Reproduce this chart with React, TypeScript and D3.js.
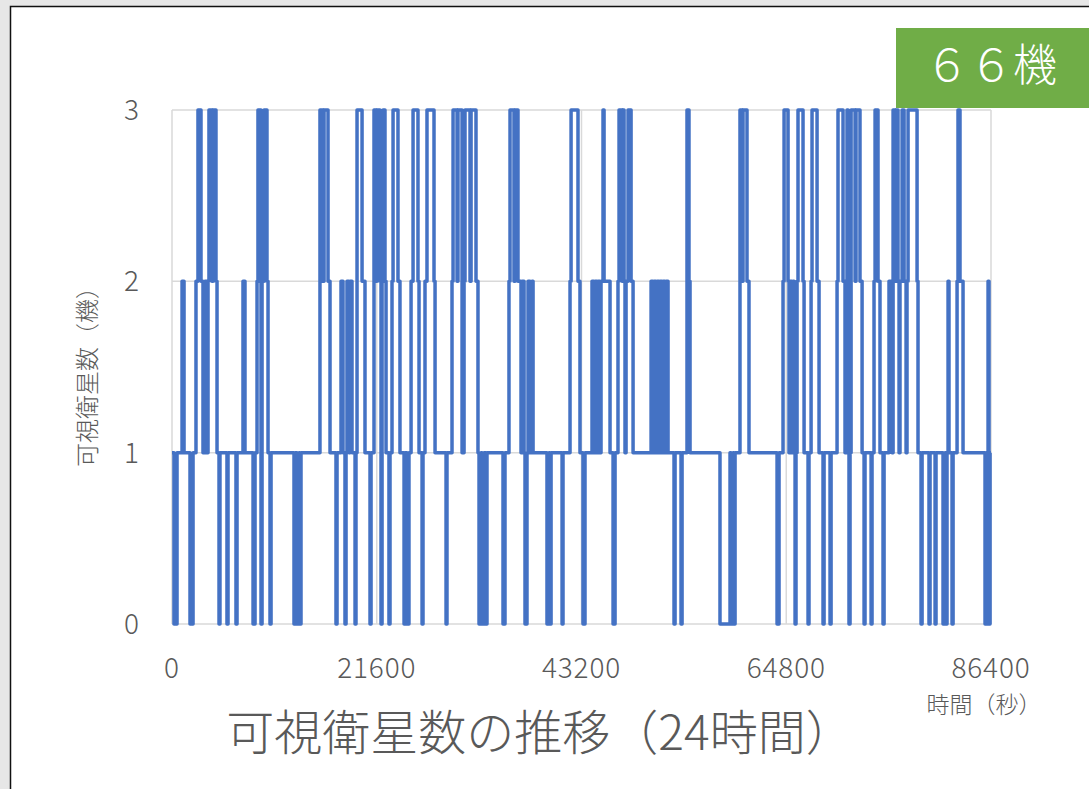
import React from 'react';
import { scaleLinear, line, curveStepAfter } from 'd3';

// change points of the visible-satellite count (seconds, count)
const changeTimes = [
  0, 210, 530, 1060, 1270, 1900, 2220, 2530, 2740, 3060, 3270, 3480, 3690, 3800, 3900, 4220, 4330, 4640, 4750, 4960,
  5060, 5800, 5910, 6750, 6860, 7490, 7700, 8550, 8760, 8970, 9070, 9390, 9500, 9710, 10020, 10130,
  10340, 10450, 12870, 12980, 13190, 13400, 13500, 13610, 15610, 15930, 16040, 16460, 16670, 17300, 17410, 17830,
  18040, 18250, 18360, 18460, 18670, 18780, 18990, 19310, 19410, 19520, 20050, 20360, 20890, 21000, 21310, 21520,
  21630, 21940,
  22050, 22160, 22260, 22470, 22580, 22890, 23000, 23210, 23320, 23840, 24050, 24480, 24580, 24790, 25000, 25220,
  25430, 25950, 26060, 26380, 26480, 26690, 26900, 27640, 27750, 28910, 29010, 29540, 29650, 30070, 30170, 30600,
  30810, 30910, 31440, 31550, 32070, 32280,
  32390, 32600, 32710, 32920, 33130, 33230, 34920, 35130, 35550, 35660, 36080, 36190, 36500, 36820, 36930, 37140,
  37240, 37450, 37560, 37770, 37980, 38090, 39560, 39770, 39880, 39990, 41150, 41250, 41990, 42100, 42830, 43040,
  43360, 43570,
  44310, 44520, 44630, 44840, 44940, 45150, 45260, 45470, 45580, 46210, 46530, 46740, 47050, 47160, 47480, 47580,
  47690, 47790, 47900, 48110, 48430, 48640, 50540, 50750, 50850, 51060, 51170, 51380, 51480, 51700, 51800, 52010,
  52120, 52330, 52960, 53070, 53700, 53810, 54330, 54540, 54650,
  57810, 58870, 58980, 59190, 59290, 59400, 59920, 60140, 60240, 60660, 60870, 63830, 64040, 64460, 64570, 64990,
  65090, 65200, 65410, 65520, 65620, 65730, 65830,
  65940, 66040, 66570, 66680, 67100, 67200, 67420, 67520, 68050, 68260, 68680, 68790, 69420, 69530, 70160, 70260,
  70790, 71000, 71110, 71210, 71320, 71420, 71530, 71640, 72060, 72160, 72580, 72800, 73010, 73110, 73750, 73850,
  74060, 74170, 74480, 74690, 75010, 75120, 75640, 75960, 76070, 76280, 76380,
  76590, 76700, 76800, 77020, 77230, 77440, 77540, 77650, 78600, 78700, 79020, 79130, 79860, 79970, 80500, 80600,
  81340, 81550, 81660, 81760, 81870, 81970, 82290, 82400, 82820, 82920, 83130, 83450, 85770, 85880, 85980, 86090,
  86190, 86300, 86400,
];
const changeValues = [
  1, 0, 1, 2, 1, 0, 1, 2, 3, 2, 1, 2, 1, 2, 3, 2, 3, 2, 1, 0,
  1, 0, 1, 0, 1, 2, 1, 0, 1, 2, 3, 0, 2, 3, 2, 1,
  0, 1, 0, 1, 0, 1, 0, 1, 3, 2, 3, 2, 1, 0, 1, 2,
  1, 0, 1, 2, 1, 2, 1, 0, 1, 3, 2, 1, 0, 1, 3, 2,
  3, 2,
  0, 2, 3, 2, 1, 0, 1, 2, 3, 2, 1, 0, 1, 0, 1, 2,
  3, 2, 1, 0, 1, 2, 3, 2, 1, 0, 1, 2, 3, 2, 3, 1,
  2, 3, 2, 3, 2, 1,
  0, 1, 0, 1, 0, 1, 0, 1, 2, 3, 2, 3, 2, 1, 2, 1,
  0, 1, 2, 1, 2, 1, 0, 1, 0, 1, 0, 1, 2, 3, 2, 1,
  0, 1,
  2, 1, 2, 1, 2, 1, 2, 3, 2, 1, 0, 1, 2, 3, 2, 3,
  2, 1, 2, 3, 2, 1, 2, 1, 2, 1, 2, 1, 2, 1, 2, 1,
  2, 1, 0, 1, 0, 1, 3, 2, 1,
  0, 1, 0, 1, 0, 1, 3, 2, 3, 2, 1, 0, 1, 2, 3, 2,
  1, 2, 1, 2, 1, 0, 1,
  2, 3, 2, 1, 0, 1, 2, 3, 2, 1, 0, 1, 0, 1, 2, 3,
  2, 1, 2, 3, 1, 0, 1, 3, 2, 3, 2, 1, 0, 1, 0, 1,
  2, 3, 2, 1, 0, 1, 2, 1, 3, 2, 3,
  2, 1, 2, 3, 2, 1, 2, 3, 2, 1, 0, 1, 0, 1, 0, 1,
  0, 1, 0, 1, 2, 1, 0, 1, 2, 3, 2, 1, 0, 1, 0, 2,
  0, 1, 1,
];

const xTicks = [0, 21600, 43200, 64800, 86400];
const yTicks = [0, 1, 2, 3];

const chartTitle = '可視衛星数の推移（24時間）';
const xTitle = '時間（秒）';
const yTitle = '可視衛星数（機）';
const badgeText = '６６機';

const W = 1089;
const H = 789;
const font = '"Noto Sans CJK JP", "Noto Sans", sans-serif';
const textColor = '#595959';

export default function App() {
  const x = scaleLinear().domain([0, 86400]).range([172, 991]);
  const y = scaleLinear().domain([0, 3]).range([624, 110]);

  const points = changeTimes.map((t, i) => ({ t, v: changeValues[i] }));
  const path = line<{ t: number; v: number }>()
    .x(d => x(d.t))
    .y(d => y(d.v))
    .curve(curveStepAfter)(points);

  return (
    <svg width={W} height={H} style={{ position: 'absolute', left: 0, top: 0 }} fontFamily={font}>
      <rect x={0} y={0} width={W} height={H} fill="#e7e7e7" />
      <rect x={10.5} y={6.5} width={W + 10} height={H + 10} fill="#fff" stroke="#111" strokeWidth={1.5} />

      {/* grid */}
      {yTicks.map(t => (
        <line key={'gy' + t} x1={x(0)} x2={x(86400)} y1={y(t)} y2={y(t)} stroke="#d9d9d9" strokeWidth={1.5} />
      ))}
      {xTicks.map(t => (
        <line key={'gx' + t} x1={x(t)} x2={x(t)} y1={y(3)} y2={y(0)} stroke="#d9d9d9" strokeWidth={1.5} />
      ))}

      <path d={path || ''} fill="none" stroke="#4472c4" strokeWidth={3.5} strokeLinejoin="round" />

      {/* tick labels */}
      {yTicks.map(t => (
        <text key={'ly' + t} x={139} y={y(t)} dy="0.36em" textAnchor="end" fontSize={28} fontWeight={300} fill={textColor}>
          {t}
        </text>
      ))}
      {xTicks.map(t => (
        <text key={'lx' + t} x={x(t)} y={678} textAnchor="middle" fontSize={28} fontWeight={300} letterSpacing={0.8} fill={textColor}>
          {t}
        </text>
      ))}

      <text x={984} y={713} textAnchor="middle" fontSize={23} fontWeight={300} fill={textColor}>{xTitle}</text>
      <text
        transform={`translate(96, 371) rotate(-90)`}
        textAnchor="middle"
        fontSize={24}
        fontWeight={300}
        fill={textColor}
      >
        {yTitle}
      </text>
      <text x={540} y={750} textAnchor="middle" fontSize={48} fontWeight={300} fill={textColor}>{chartTitle}</text>

      {/* badge */}
      <rect x={896} y={28} width={W - 896} height={80} fill="#70ad47" />
      <text x={991} y={81} textAnchor="middle" fontSize={44} fontWeight={300} fill="#fff">{badgeText}</text>
    </svg>
  );
}
